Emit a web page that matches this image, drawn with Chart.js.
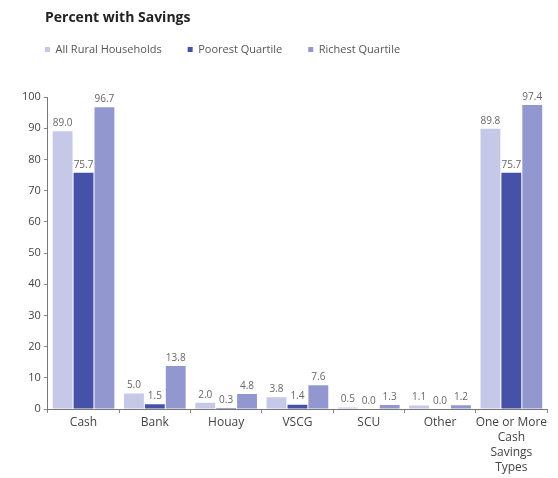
<!DOCTYPE html>
<html>
<head>
<meta charset="utf-8">
<script src="https://cdn.jsdelivr.net/npm/chart.js@4/dist/chart.umd.min.js"></script>
<style>
  body { margin: 0; background: #fff; }
  #wrap { position: relative; width: 558px; height: 478px; }
  #title { position: absolute; left: 45px; top: 7px; font: bold 14px "Open Sans", sans-serif; color: #222; }
</style>
</head>
<body>
<div id="wrap">
  <div id="title">Percent with Savings</div>
  <canvas id="savingsChart"></canvas>
</div>
<script>
const categories = ['Cash', 'Bank', 'Houay', 'VSCG', 'SCU', 'Other', ['One or More', 'Cash', 'Savings', 'Types']];
const allRural = [89.0, 5.0, 2.0, 3.8, 0.5, 1.1, 89.8];
const poorest = [75.7, 1.5, 0.3, 1.4, 0.0, 0.0, 75.7];
const richest = [96.7, 13.8, 4.8, 7.6, 1.3, 1.2, 97.4];
const yTicks = [0, 10, 20, 30, 40, 50, 60, 70, 80, 90, 100];

// small value labels above every bar
const valueLabels = {
  id: 'valueLabels',
  afterDatasetsDraw(chart) {
    const c = chart.ctx;
    c.save();
    c.font = '10px "Open Sans", sans-serif';
    c.fillStyle = '#666';
    c.textAlign = 'center';
    c.textBaseline = 'bottom';
    chart.data.datasets.forEach((ds, i) => {
      chart.getDatasetMeta(i).data.forEach((bar, j) => {
        c.fillText(ds.data[j].toFixed(1), bar.x, bar.y - 3);
      });
    });
    c.restore();
  }
};

// extra space between legend and plot
const legendGap = {
  id: 'legendGap',
  beforeInit(chart) {
    const fit = chart.legend.fit;
    chart.legend.fit = function () {
      fit.call(this);
      this.height += 32;
    };
  }
};

const font = '"Open Sans", sans-serif';
const ctx = document.getElementById('savingsChart').getContext('2d');
const savingsChart = new Chart(ctx, {
  type: 'bar',
  data: {
    labels: categories,
    datasets: [
      { label: 'All Rural Households', data: allRural, backgroundColor: '#c5c8e7' },
      { label: 'Poorest Quartile', data: poorest, backgroundColor: '#4552a8' },
      { label: 'Richest Quartile', data: richest, backgroundColor: '#9297d0' },
    ],
  },
  options: {
    responsive: true,
    maintainAspectRatio: false,
    animation: false,
    layout: { padding: { left: 19, right: 11, top: 18, bottom: 1 } },
    datasets: { bar: { barPercentage: 0.95, categoryPercentage: 0.88 } },
    plugins: {
      legend: {
        align: 'start',
        labels: {
          boxWidth: 5,
          boxHeight: 5,
          color: '#555',
          padding: 26,
          font: { family: font, size: 11 },
        },
      },
      tooltip: { enabled: false },
    },
    scales: {
      x: {
        grid: { display: true, drawOnChartArea: false, offset: true, tickLength: 4, color: '#888' },
        border: { color: '#777' },
        ticks: { color: '#444', font: { family: font, size: 12, lineHeight: 1.25 }, padding: 2, maxRotation: 0, autoSkip: false },
      },
      y: {
        min: 0,
        max: 100,
        afterBuildTicks(axis) { axis.ticks = yTicks.map(v => ({ value: v })); },
        grid: { display: true, drawOnChartArea: false, tickLength: 4, color: '#888' },
        border: { color: '#777' },
        ticks: { color: '#444', font: { family: font, size: 11 } },
      },
    },
  },
  plugins: [valueLabels, legendGap],
});
</script>
</body>
</html>
